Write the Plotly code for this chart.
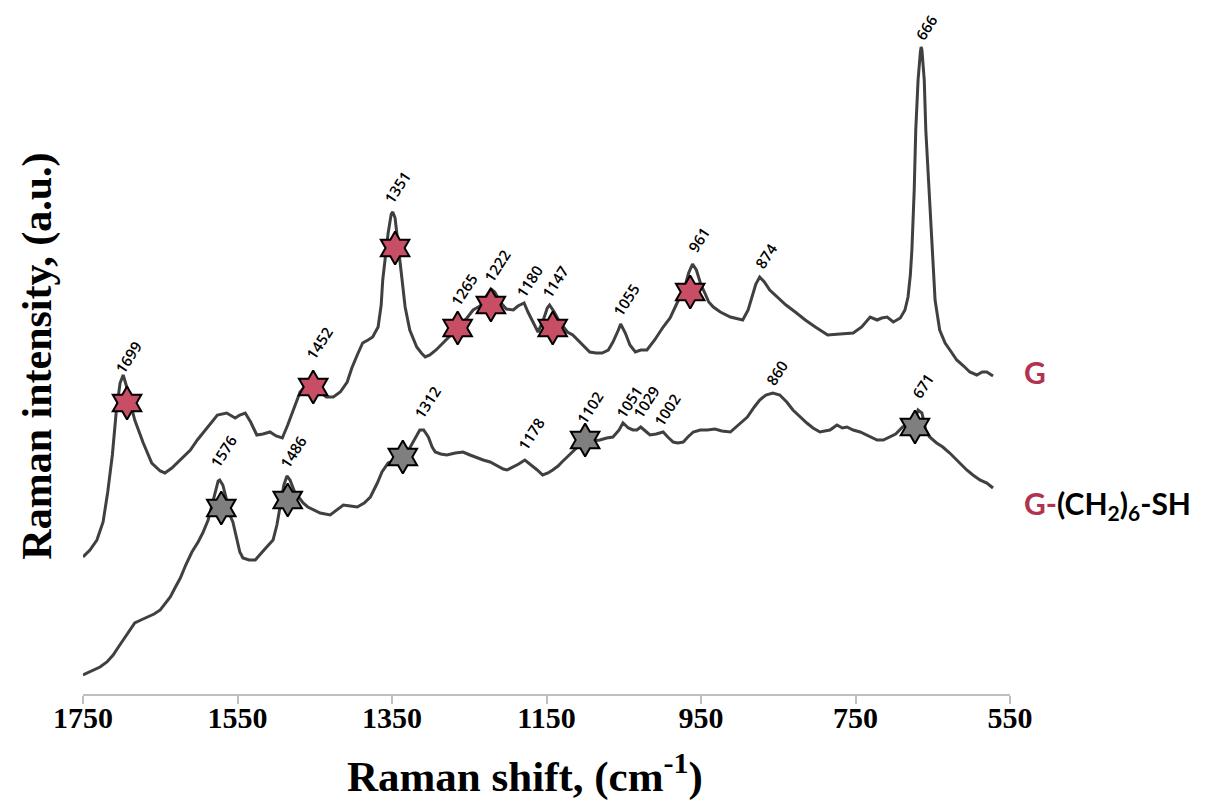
import plotly.graph_objects as go

# ---------------- data ----------------
g_x = [1750,1741,1732,1724,1718,1712,1707,1702,1698,1693,1688,1683,1672,1661,1650,1644,1635,1624,1611,1602,
       1589,1576,1564,1553,1547,1540,1533,1525,1517,1508,1500,1492,1485,1478,1469,1461,1452,1443,1435,1426,
       1417,1408,1402,1395,1388,1381,1375,1368,1364,1362,1358,1355,1351,1349,1346,1342,1338,1333,1327,1318,
       1312,1307,1301,1293,1284,1275,1268,1262,1253,1245,1236,1228,1222,1217,1210,1202,1193,1187,1179,1174,
       1167,1161,1155,1149,1146,1140,1133,1123,1116,1107,1100,1094,1086,1078,1070,1064,1057,1054,1048,1042,
       1035,1028,1020,1010,999,990,981,972,966,961,956,950,945,940,934,925,912,903,896,889,
       884,879,874,868,861,850,840,828,815,802,786,770,753,742,731,722,716,709,701,692,
       686,682,679,677,674,672,669,666,665,664,661,659,655,651,647,641,634,626,619,610,
       602,593,586,580,572]
g_y = [137,144,154,172,202,239,282,311,319,306,289,274,251,231,223,221,226,234,244,254,
       267,279,281,276,279,281,272,259,260,262,258,256,269,284,302,309,311,302,297,297,
       302,312,326,339,351,354,357,367,389,414,444,461,480,482,476,449,419,387,364,347,
       341,337,339,344,351,358,361,369,376,384,388,398,405,402,392,385,384,388,391,382,
       371,362,372,386,389,382,372,362,359,352,346,342,341,341,344,352,364,370,361,349,
       342,344,344,354,367,376,391,404,421,430,424,409,401,392,387,382,377,375,374,384,
       397,410,417,412,404,396,389,382,374,367,359,360,361,367,377,374,376,377,372,376,
       384,397,419,444,504,564,614,642,647,644,614,564,504,449,394,364,351,342,334,328,
       322,319,322,322,318]

s_x = [1750,1738,1728,1719,1711,1705,1698,1690,1683,1675,1667,1658,1650,1644,1637,1631,1624,1617,1609,1601,
       1595,1588,1583,1579,1575,1573,1569,1564,1560,1556,1551,1547,1543,1535,1527,1522,1518,1511,1504,1499,
       1495,1490,1486,1482,1476,1465,1459,1452,1443,1430,1421,1413,1404,1395,1386,1378,1369,1363,1355,1346,
       1336,1327,1319,1314,1309,1303,1298,1294,1287,1279,1268,1258,1249,1240,1232,1223,1214,1206,1201,1193,
       1186,1178,1171,1162,1155,1148,1142,1135,1130,1123,1113,1107,1100,1091,1081,1072,1064,1056,1051,1044,
       1038,1033,1028,1022,1016,1008,999,993,986,980,973,967,960,951,942,932,923,912,902,890,
       881,874,866,857,848,839,831,822,813,805,796,790,783,774,767,761,753,744,734,722,
       714,705,698,689,679,673,669,664,659,654,645,637,628,619,611,606,598,589,580,572]
s_y = [19,23,27,32,39,46,54,63,71,74,77,80,84,90,97,106,116,129,142,152,
       161,174,189,202,213,214,209,194,179,172,154,142,136,134,134,138,142,148,154,169,
       187,209,218,214,202,191,187,184,181,179,184,189,188,187,191,197,211,222,231,234,
       237,246,257,264,264,257,247,242,240,239,241,242,239,236,234,232,228,225,224,227,
       230,234,230,224,219,221,224,228,232,237,244,249,252,253,254,256,257,264,271,266,
       264,264,267,263,259,260,262,257,252,251,252,257,262,264,264,265,263,262,269,277,
       287,294,299,301,299,292,284,277,271,266,262,263,264,269,266,267,264,262,258,254,
       254,257,260,267,271,274,284,281,264,257,251,247,241,234,228,224,219,214,211,206]

g_star_x = [1693, 1452, 1346, 1265, 1222, 1142, 964]
g_star_y = [291, 307, 446, 366, 389, 366, 402]
s_star_x = [1571, 1485, 1336, 1100, 673]
s_star_y = [186, 194, 237, 254, 267]

g_peaks = [1699, 1452, 1351, 1265, 1222, 1180, 1147, 1055, 961, 874, 666]
g_label_y = [337, 351, 507, 404, 428, 413, 412, 394, 454, 438, 667]
s_peaks = [1576, 1486, 1312, 1178, 1102, 1051, 1029, 1002, 860, 671]
s_label_y = [243, 242, 292, 260, 286, 292, 292, 284, 321, 308]

x_ticks = [1750, 1550, 1350, 1150, 950, 750, 550]

# ---------------- styles ----------------
LINE = "#404040"
RED_STAR = "#C84E66"
GRAY_STAR = "#7F7F7F"
RED_TEXT = "#B0334F"
SERIF = "Liberation Serif, Times New Roman, serif"
SANS = "Lato, Open Sans, sans-serif"

fig = go.Figure()
fig.add_trace(go.Scatter(x=g_x, y=g_y, mode="lines", line=dict(color=LINE, width=3), hoverinfo="skip"))
fig.add_trace(go.Scatter(x=s_x, y=s_y, mode="lines", line=dict(color=LINE, width=3), hoverinfo="skip"))
fig.add_trace(go.Scatter(x=g_star_x, y=g_star_y, mode="markers",
                         marker=dict(symbol="hexagram", size=25, color=RED_STAR,
                                     line=dict(color="black", width=2))))
fig.add_trace(go.Scatter(x=s_star_x, y=s_star_y, mode="markers",
                         marker=dict(symbol="hexagram", size=25, color=GRAY_STAR,
                                     line=dict(color="black", width=2))))

for px_, py_ in list(zip(g_peaks, g_label_y)) + list(zip(s_peaks, s_label_y)):
    fig.add_annotation(x=px_, y=py_, xref="x", yref="y", text=str(px_), showarrow=False,
                       textangle=-57, xshift=6,
                       font=dict(family="Open Sans, sans-serif", size=15, color="black", weight=600))

# series names on the right
fig.add_annotation(x=1.0, y=322, xref="paper", yref="y", xanchor="left", yanchor="middle",
                   xshift=12, text="<b>G</b>", showarrow=False,
                   font=dict(family=SANS, size=30, color=RED_TEXT))
fig.add_annotation(x=1.0, y=189, xref="paper", yref="y", xanchor="left", yanchor="middle",
                   xshift=12,
                   text="<b><span style='color:%s'>G-</span>(CH<sub>2</sub>)<sub>6</sub>-SH</b>" % RED_TEXT,
                   showarrow=False, font=dict(family=SANS, size=30, color="black"))

# axis titles (paper coords relative to the plot area)
fig.add_annotation(x=0.477, y=-0.117, xref="paper", yref="paper",
                   text="<b>Raman shift, (cm<sup>-1</sup>)</b>", showarrow=False,
                   xanchor="center", yanchor="middle",
                   font=dict(family=SERIF, size=43, color="black"))
fig.add_annotation(x=-0.05, y=0.497, xref="paper", yref="paper",
                   text="<b>Raman intensity, (a.u.)</b>", showarrow=False, textangle=-90,
                   xanchor="center", yanchor="middle",
                   font=dict(family=SERIF, size=42, color="black"))

fig.update_layout(
    width=1205, height=802,
    margin=dict(l=75, r=203, t=6, b=116),
    paper_bgcolor="white", plot_bgcolor="white",
    showlegend=False,
    xaxis=dict(range=[1750, 550], autorange=False, tickvals=x_ticks,
               ticktext=["<b>%d</b>" % v for v in x_ticks],
               showgrid=False, zeroline=False, showline=True, linecolor="#BFBFBF", linewidth=1.5,
               ticks="outside", ticklen=8, tickcolor="#BFBFBF", tickwidth=1.5,
               ticklabelstandoff=-12,
               tickfont=dict(family=SERIF, size=30, color="black")),
    yaxis=dict(range=[0, 680], autorange=False, visible=False),
)

fig.write_html("out.html")
